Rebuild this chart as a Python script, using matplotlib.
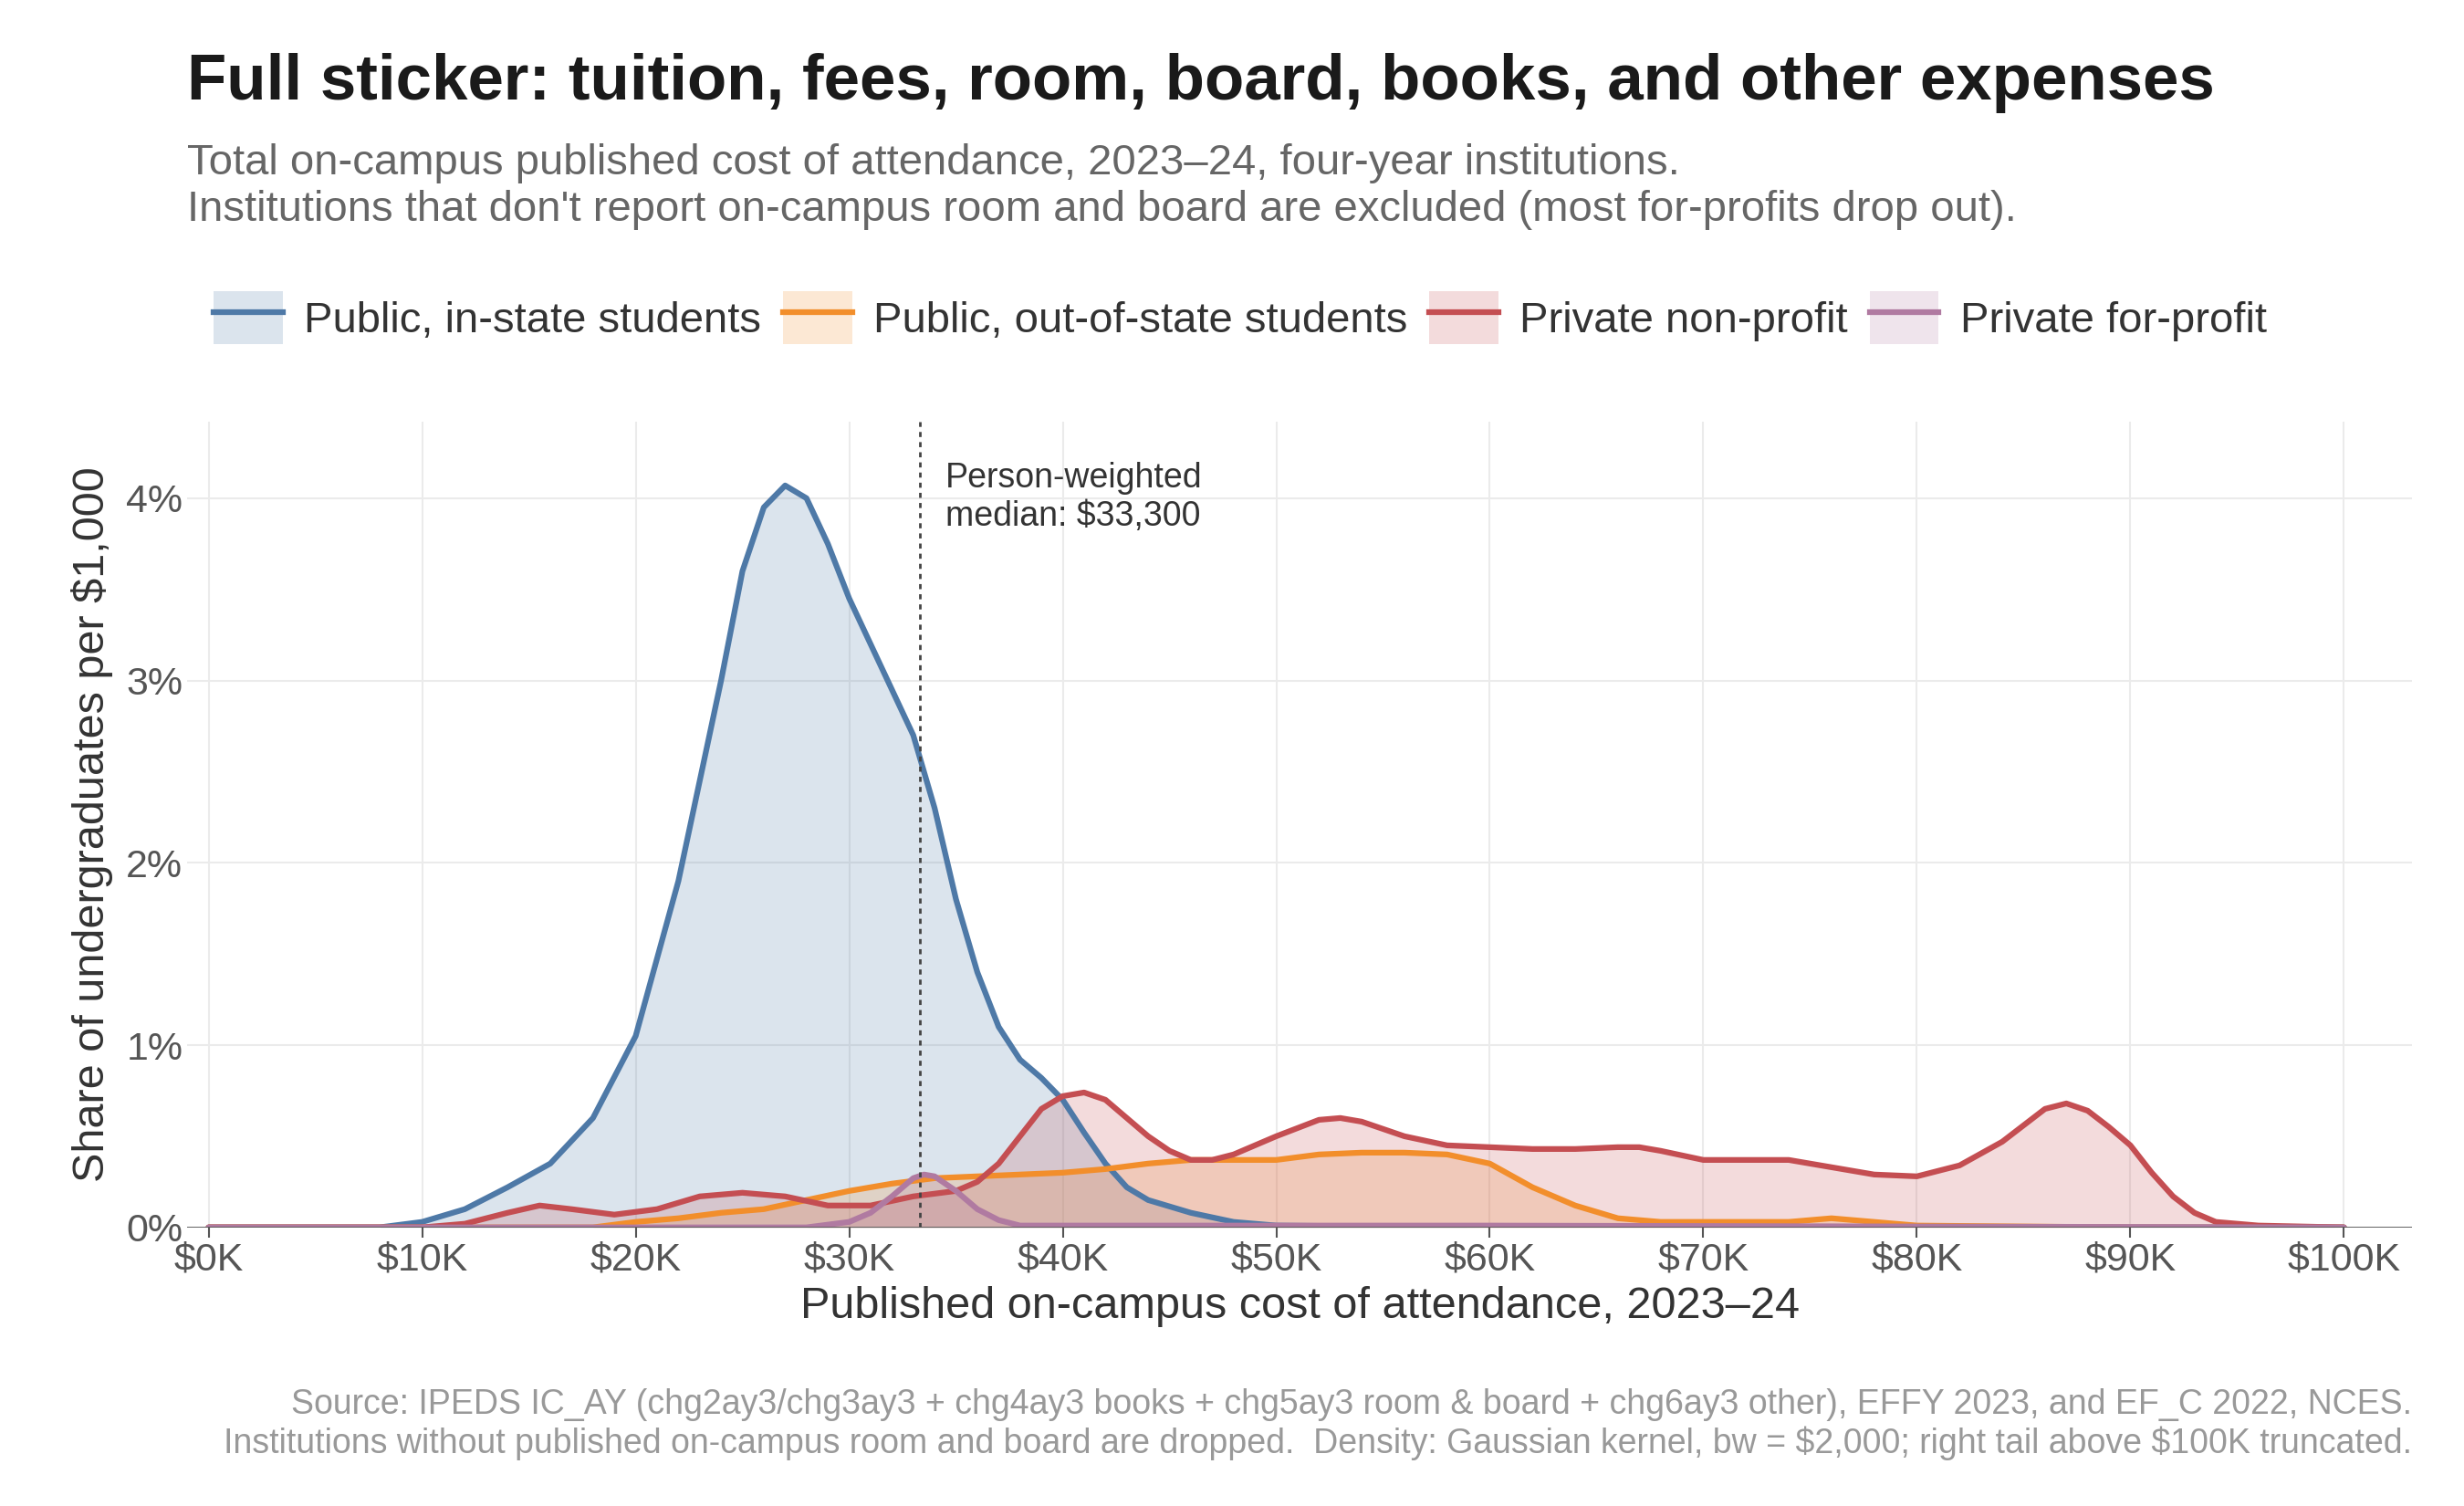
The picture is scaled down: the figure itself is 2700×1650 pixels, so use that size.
import matplotlib
matplotlib.use("Agg")
import matplotlib.pyplot as plt
from matplotlib.patches import Patch
from matplotlib.lines import Line2D
import numpy as np

plt.rcParams['font.family'] = ['Liberation Sans', 'DejaVu Sans']

x_in = [0,8,10,12,14,16,18,20,22,24,25,26,27,28,29,30,31,32,33,34,35,36,37,38,39,40,41,42,43,44,46,48,50,55,60,100]
y_in = [0,0,0.03,0.1,0.22,0.35,0.6,1.05,1.9,3.0,3.6,3.95,4.07,4.0,3.75,3.45,3.2,2.95,2.7,2.3,1.8,1.4,1.1,0.92,0.82,0.7,0.52,0.35,0.22,0.15,0.08,0.03,0.01,0.005,0,0]

x_out = [0,18,20,22,24,26,28,30,32,34,36,38,40,42,44,46,48,50,52,54,56,58,60,62,64,66,68,70,72,74,76,78,80,85,90,100]
y_out = [0,0,0.03,0.05,0.08,0.1,0.15,0.2,0.24,0.27,0.28,0.29,0.3,0.32,0.35,0.37,0.37,0.37,0.4,0.41,0.41,0.4,0.35,0.22,0.12,0.05,0.03,0.03,0.03,0.03,0.05,0.03,0.01,0.005,0,0]

x_np = [0,10,12,14,15.5,17,19,21,23,25,27,29,31,33,35,36,37,38,39,40,41,42,43,44,45,46,47,48,50,52,53,54,56,58,60,62,64,66,67,68,70,72,74,76,78,80,82,84,86,87,88,89,90,91,92,93,94,96,100]
y_np = [0,0,0.02,0.08,0.12,0.1,0.07,0.1,0.17,0.19,0.17,0.12,0.12,0.17,0.2,0.25,0.35,0.5,0.65,0.72,0.74,0.7,0.6,0.5,0.42,0.37,0.37,0.4,0.5,0.59,0.6,0.58,0.5,0.45,0.44,0.43,0.43,0.44,0.44,0.42,0.37,0.37,0.37,0.33,0.29,0.28,0.34,0.47,0.65,0.68,0.64,0.55,0.45,0.3,0.17,0.08,0.03,0.01,0]

x_fp = [0,28,30,31,32,33,33.5,34,35,36,37,38,40,50,60,80,100]
y_fp = [0,0,0.03,0.08,0.17,0.27,0.29,0.28,0.2,0.1,0.04,0.01,0.01,0.01,0.01,0.005,0]

series = [
    ("Public, in-state students", x_in, y_in, "#4e79a7"),
    ("Public, out-of-state students", x_out, y_out, "#f28e2b"),
    ("Private non-profit", x_np, y_np, "#c44e52"),
    ("Private for-profit", x_fp, y_fp, "#b07aa1"),
]
median = 33.3

fig = plt.figure(figsize=(27, 16.5), dpi=100)
ax = fig.add_axes([0.076, 0.185, 0.903, 0.535])
handles = []
for name, xs, ys, c in series:
    ax.fill_between(xs, ys, color=c, alpha=0.2, lw=0)
    ax.plot(xs, ys, color=c, lw=4.5, solid_joinstyle='round', solid_capstyle='round')
    handles.append((Patch(facecolor=c, alpha=0.2, edgecolor='none'), Line2D([], [], color=c, lw=4.5)))

ax.axvline(median, color='#444444', lw=2, ls=(0, (2, 2)))
ax.text(median + 1.2, 4.2, "Person-weighted\nmedian: \\$33,300", fontsize=27, color='#333333', va='top', ha='left', linespacing=1.2)
ax.axhline(0, color='#555555', lw=2)

ax.set_xlim(-1, 103.2)
ax.set_ylim(0, 4.42)
ax.set_xticks(range(0, 101, 10))
ax.set_xticklabels([f"${v}K" for v in range(0, 101, 10)])
ax.set_yticks([0, 1, 2, 3, 4])
ax.set_yticklabels(["0%", "1%", "2%", "3%", "4%"])
ax.tick_params(labelsize=31, colors='#555555', length=8, width=1.5)
ax.tick_params(axis='y', length=0)
for lab in ax.get_xticklabels() + ax.get_yticklabels():
    lab.set_color('#555555')
ax.grid(True, color='#ebebeb', lw=1.5)
ax.set_axisbelow(True)
for s in ax.spines.values():
    s.set_visible(False)
ax.set_xlabel("Published on-campus cost of attendance, 2023–24", fontsize=35, color='#333333', labelpad=6)
ax.set_ylabel("Share of undergraduates per \\$1,000", fontsize=35, color='#333333', labelpad=10)

fig.text(0.076, 0.965, "Full sticker: tuition, fees, room, board, books, and other expenses", fontsize=51, fontweight='bold', color='#1a1a1a', va='top')
fig.text(0.076, 0.905, "Total on-campus published cost of attendance, 2023–24, four-year institutions.\nInstitutions that don't report on-campus room and board are excluded (most for-profits drop out).",
         fontsize=34, color='#666666', va='top', linespacing=1.2)

fig.legend(handles, [s[0] for s in series], loc='center left', bbox_to_anchor=(0.071, 0.789), ncol=4, frameon=False,
           fontsize=34, handlelength=1.6, handleheight=1.5, columnspacing=0.5, handletextpad=0.5, labelcolor='#333333')

fig.text(0.979, 0.03, "Source: IPEDS IC_AY (chg2ay3/chg3ay3 + chg4ay3 books + chg5ay3 room & board + chg6ay3 other), EFFY 2023, and EF_C 2022, NCES.\nInstitutions without published on-campus room and board are dropped.  Density: Gaussian kernel, bw = \\$2,000; right tail above \\$100K truncated.",
         fontsize=27, color='#999999', ha='right', va='bottom', linespacing=1.2)

fig.savefig("out.png", dpi=100, facecolor='white')
